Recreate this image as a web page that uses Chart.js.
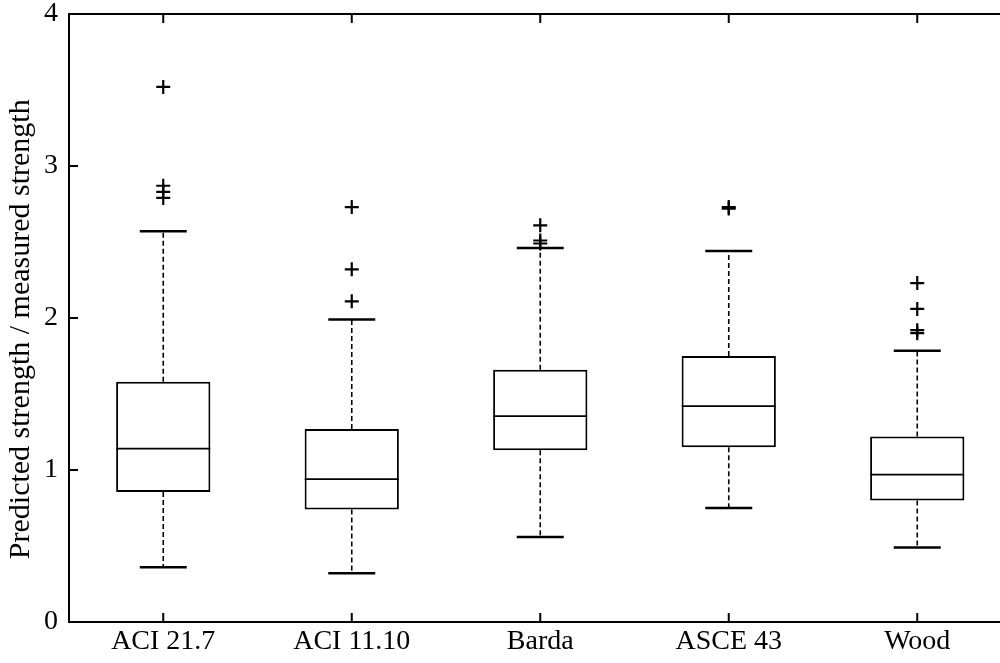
<!DOCTYPE html>
<html>
<head>
<meta charset="utf-8">
<script src="https://cdn.jsdelivr.net/npm/chart.js@4/dist/chart.umd.min.js"></script>
<style>
  html, body { margin: 0; padding: 0; background: #fff; overflow: hidden; }
  #wrap { width: 1000px; height: 663px; overflow: hidden; }
</style>
</head>
<body>
<div id="wrap">
  <!-- canvas is a bit wider than the window: the right border of the plot is cut off in the original -->
  <canvas id="chart" width="1020" height="663"></canvas>
</div>

<script>
  // Box plot statistics
  const categories = ['ACI 21.7', 'ACI 11.10', 'Barda', 'ASCE 43', 'Wood'];
  const lowerWhisker = [0.36, 0.32, 0.56, 0.75, 0.49];
  const q1 = [0.855, 0.74, 1.13, 1.15, 0.80];
  const median = [1.14, 0.94, 1.355, 1.42, 0.97];
  const q3 = [1.58, 1.27, 1.66, 1.75, 1.22];
  const upperWhisker = [2.57, 1.99, 2.46, 2.44, 1.785];
  const outliers = [
    [3.52, 2.87, 2.83, 2.79],
    [2.73, 2.32, 2.11],
    [2.61, 2.51, 2.49],
    [2.73, 2.72],
    [2.23, 2.06, 1.92, 1.90]
  ];
  const yTicks = [0, 1, 2, 3, 4];

  const FONT = 'Liberation Serif, Times New Roman, serif';

  // dashed whisker segments, broken with null points
  const whiskerPts = [];
  categories.forEach((c, i) => {
    whiskerPts.push({ x: c, y: q3[i] }, { x: c, y: upperWhisker[i] }, { x: c, y: null });
    whiskerPts.push({ x: c, y: q1[i] }, { x: c, y: lowerWhisker[i] }, { x: c, y: null });
  });
  const outlierPts = [];
  categories.forEach((c, i) => outliers[i].forEach(v => outlierPts.push({ x: c, y: v })));

  // MATLAB style: full box around the axes, ticks pointing inward
  const frame = {
    id: 'frame',
    afterDraw(chart) {
      const { ctx, chartArea: a, scales } = chart;
      const len = 9;
      ctx.save();
      ctx.strokeStyle = '#000';
      ctx.lineWidth = 2;
      ctx.strokeRect(a.left, a.top, a.right - a.left, a.bottom - a.top);
      ctx.beginPath();
      scales.x.ticks.forEach((t, i) => {
        const px = scales.x.getPixelForTick(i);
        ctx.moveTo(px, a.bottom); ctx.lineTo(px, a.bottom - len);
        ctx.moveTo(px, a.top); ctx.lineTo(px, a.top + len);
      });
      yTicks.forEach(v => {
        const py = scales.y.getPixelForValue(v);
        ctx.moveTo(a.left, py); ctx.lineTo(a.left + len, py);
        ctx.moveTo(a.right, py); ctx.lineTo(a.right - len, py);
      });
      ctx.stroke();
      ctx.restore();
    }
  };

  const ctx = document.getElementById('chart').getContext('2d');
  new Chart(ctx, {
    type: 'bar',
    data: {
      labels: categories,
      datasets: [
        {
          // median lines
          type: 'line',
          data: median,
          showLine: false,
          pointStyle: 'line',
          pointRadius: 47,
          pointBorderWidth: 1.8,
          pointBorderColor: '#000'
        },
        {
          // upper whisker caps
          type: 'line',
          data: upperWhisker,
          showLine: false,
          pointStyle: 'line',
          pointRadius: 23.5,
          pointBorderWidth: 2.5,
          pointBorderColor: '#000'
        },
        {
          // lower whisker caps
          type: 'line',
          data: lowerWhisker,
          showLine: false,
          pointStyle: 'line',
          pointRadius: 23.5,
          pointBorderWidth: 2.5,
          pointBorderColor: '#000'
        },
        {
          // outliers
          type: 'line',
          data: outlierPts,
          showLine: false,
          pointStyle: 'cross',
          pointRadius: 7,
          pointBorderWidth: 2.2,
          pointBorderColor: '#000'
        },
        {
          // dashed whiskers
          type: 'line',
          data: whiskerPts,
          spanGaps: false,
          pointRadius: 0,
          borderColor: '#000',
          borderWidth: 1.6,
          borderDash: [5, 3]
        },
        {
          // boxes q1..q3
          type: 'bar',
          data: q1.map((v, i) => [v, q3[i]]),
          backgroundColor: '#fff',
          borderColor: '#000',
          borderWidth: 2,
          borderSkipped: false,
          barPercentage: 0.5,
          categoryPercentage: 1
        }
      ]
    },
    options: {
      responsive: false,
      animation: false,
      layout: { autoPadding: false, padding: { top: 14, right: 8.5, left: 0, bottom: 0 } },
      plugins: {
        legend: { display: false },
        tooltip: { enabled: false }
      },
      scales: {
        x: {
          grid: { display: false, drawTicks: false },
          border: { display: false },
          ticks: { color: '#000', font: { family: FONT, size: 28 }, padding: 3 },
          afterFit: s => { s.height = 41; }
        },
        y: {
          min: 0,
          max: 4,
          afterBuildTicks: s => { s.ticks = yTicks.map(v => ({ value: v })); },
          grid: { display: false, drawTicks: false },
          border: { display: false },
          ticks: { color: '#000', font: { family: FONT, size: 28 }, padding: 11 },
          title: {
            display: true,
            // trailing spaces push the centred text a little lower, as in the original
            text: 'Predicted strength / measured strength   ',
            color: '#000',
            font: { family: FONT, size: 30 },
            padding: { top: 3, bottom: 0 }
          },
          // top label "4" is allowed to run off the top edge, like the original
          afterFit: s => { s.width = 69; s.paddingTop = 0; s.paddingBottom = 0; }
        }
      }
    },
    plugins: [frame]
  });
</script>
</body>
</html>
